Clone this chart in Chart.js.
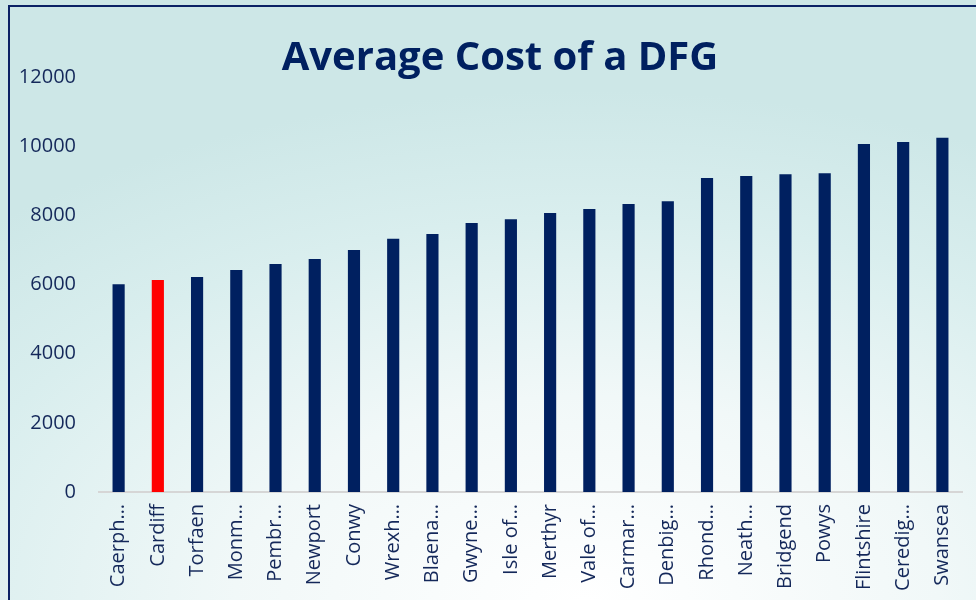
<!DOCTYPE html>
<html>
<head>
<meta charset="utf-8">
<title>Average Cost of a DFG</title>
<script src="https://cdn.jsdelivr.net/npm/chart.js@4.4.1/dist/chart.umd.min.js"></script>
<style>
  html, body { margin:0; padding:0; width:976px; height:600px; overflow:hidden; }
  body {
    background: radial-gradient(ellipse 90% 85% at 60% 100%, #ffffff 0%, #f1f8f8 40%, #d9eeee 75%, #cde7e7 100%);
    font-family: "Open Sans", sans-serif;
  }
  .frame {
    position:absolute; left:8px; top:5px; width:1100px; height:700px;
    border-left:2px solid #0b2265; border-top:2px solid #0b2265;
  }
  #chartCanvas { position:absolute; left:0; top:0; }
</style>
</head>
<body>
<div class="frame"></div>
<canvas id="chartCanvas" width="1000" height="600"></canvas>
<script>
// valores
const categories = ['Caerph…','Cardiff','Torfaen','Monm…','Pembr…','Newport','Conwy','Wrexh…','Blaena…','Gwyne…','Isle of…',
  'Merthyr','Vale of…','Carmar…','Denbig…','Rhond…','Neath…','Bridgend','Powys','Flintshire','Ceredig…','Swansea'];
const avgCost = [6010, 6130, 6220, 6420, 6590, 6740, 7000, 7320, 7460, 7780, 7890,
  8070, 8180, 8330, 8410, 9080, 9140, 9190, 9220, 10060, 10120, 10240];
const highlight = 'Cardiff';
const yTicks = [0, 2000, 4000, 6000, 8000, 10000, 12000];

(function(){
  const navy = '#002060';
  const textCol = '#14285a';
  const colors = categories.map(c => c === highlight ? '#ff0000' : navy);

  // empurra o titulo um pouco pra direita (centro em x=500)
  const shiftTitle = {
    id: 'shiftTitle',
    afterLayout(chart){
      if(chart.titleBlock) chart.titleBlock.left = 38;
    }
  };

  new Chart(document.getElementById('chartCanvas').getContext('2d'), {
    type: 'bar',
    data: {
      labels: categories,
      datasets: [{ label: 'Average cost', data: avgCost, backgroundColor: colors,
        barPercentage: 0.31, categoryPercentage: 1 }]
    },
    options: {
      responsive: false,
      devicePixelRatio: 1,
      animation: false,
      layout: { padding: { left: 0, right: 38, top: 0, bottom: 0 } },
      plugins: {
        legend: { display: false },
        tooltip: { enabled: false },
        title: {
          display: true,
          text: 'Average Cost of a DFG',
          color: navy,
          font: { family: 'Open Sans', size: 40, weight: 'bold' },
          padding: { top: 35, bottom: -6 }
        }
      },
      scales: {
        x: {
          grid: { display: false, drawTicks: false },
          border: { display: true, color: '#d6d6d6', width: 2 },
          ticks: { color: textCol, font: { family: 'Open Sans', size: 20 },
            minRotation: 90, maxRotation: 90, autoSkip: false, padding: 12 },
          afterFit: s => { s.height = 108; }
        },
        y: {
          min: 0, max: 12000,
          grid: { display: false, drawTicks: false },
          border: { display: false },
          afterBuildTicks: s => { s.ticks = yTicks.map(v => ({ value: v })); },
          ticks: { color: textCol, font: { family: 'Open Sans', size: 20 }, padding: 23,
            callback: v => String(v) },
          afterFit: s => { s.width = 99; }
        }
      }
    },
    plugins: [shiftTitle]
  });
})();
</script>
</body>
</html>
